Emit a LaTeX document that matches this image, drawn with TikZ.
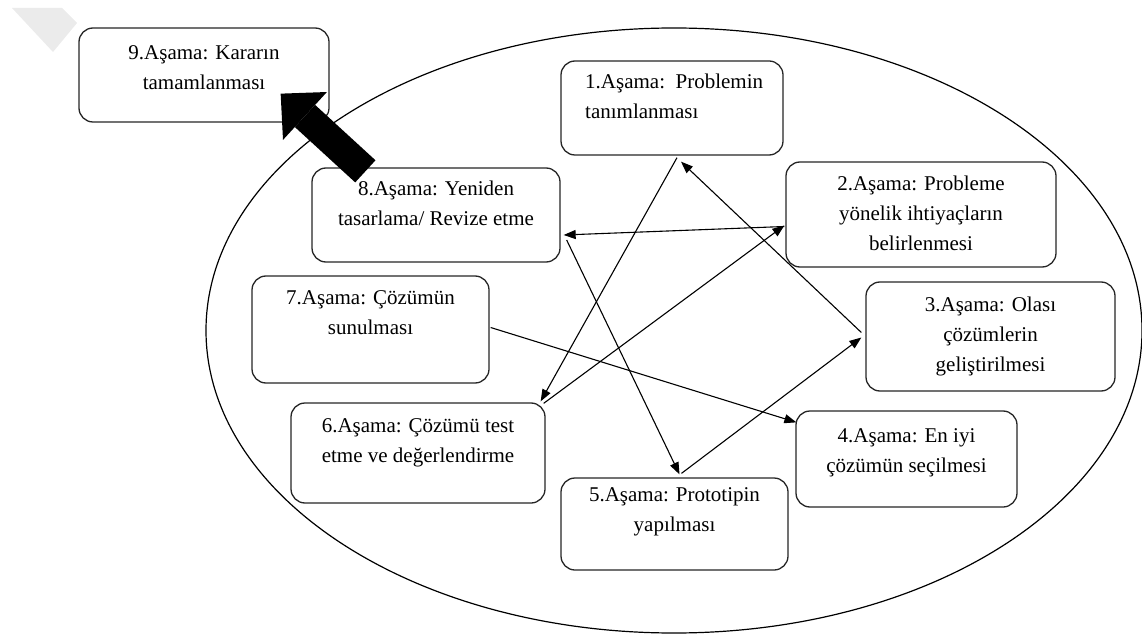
\documentclass[tikz,border=0pt]{standalone}
\usepackage{fontspec}
\setmainfont{Liberation Serif}
\usetikzlibrary{arrows.meta}
\begin{document}
\begin{tikzpicture}[x=1pt,y=-1pt]
\tikzset{
  box/.style={draw=black!85, line width=1.3pt, rounded corners=14pt, fill=white, inner sep=0pt},
  txt/.style={font=\fontsize{21}{30}\selectfont, inner sep=0pt, align=center, anchor=north},
  con/.style={line width=1.1pt, -{Triangle[length=12pt,width=9pt]}},
  bigarrow/.style={line width=30pt, -{Triangle[length=33pt,width=65pt,line width=0pt]}}
}
\useasboundingbox (0,0) rectangle (1142,636);
% watermark
\fill[black!8] (12,8) -- (62,8) -- (77,23) -- (53,52) -- cycle;
% ellipse
\draw[line width=1.2pt] (674,330.5) ellipse [x radius=468pt, y radius=302.5pt];
% boxes
\node[box, minimum width=250pt, minimum height=94pt]  (b9) at (204,75) {};
\node[box, minimum width=222pt, minimum height=94pt]  (b1) at (672,108) {};
\node[box, minimum width=248pt, minimum height=94pt]  (b8) at (436,215) {};
\node[box, minimum width=270pt, minimum height=105pt] (b2) at (921,214.5) {};
\node[box, minimum width=237pt, minimum height=107pt] (b7) at (370.5,329.5) {};
\node[box, minimum width=249pt, minimum height=109pt] (b3) at (990.5,336.5) {};
\node[box, minimum width=254pt, minimum height=100pt] (b6) at (418,453) {};
\node[box, minimum width=221pt, minimum height=96pt]  (b4) at (906.5,459) {};
\node[box, minimum width=227pt, minimum height=92pt]  (b5) at (674.5,524) {};
% texts
\node[txt] (t9) at ([yshift=-11pt]b9.north) {\strut 9.Aşama: Kararın\\tamamlanması};
\node[txt, anchor=north west, align=left] (t1) at (585,67) {\strut 1.Aşama:\ \ Problemin\\tanımlanması};
\node[txt] (t8) at ([yshift=-7pt]b8.north) {\strut 8.Aşama: Yeniden\\tasarlama/ Revize etme};
\node[txt] (t2) at ([yshift=-8pt]b2.north) {\strut 2.Aşama: Probleme\\yönelik ihtiyaçların\\belirlenmesi};
\node[txt] (t7) at ([yshift=-8pt]b7.north) {\strut 7.Aşama: Çözümün\\sunulması};
\node[txt] (t3) at ([yshift=-9pt]b3.north) {\strut 3.Aşama: Olası\\çözümlerin\\geliştirilmesi};
\node[txt] (t6) at ([yshift=-9pt]b6.north) {\strut 6.Aşama: Çözümü test\\etme ve değerlendirme};
\node[txt] (t4) at ([yshift=-11pt]b4.north) {\strut 4.Aşama: En iyi\\çözümün seçilmesi};
\node[txt] (t5) at ([yshift=-3pt]b5.north) {\strut 5.Aşama: Prototipin\\yapılması};
% connectors
\draw[con] ([xshift=5pt,yshift=-2pt]b1.south) -- ([xshift=-5pt,yshift=1pt]b6.north east);
\draw[con] ([xshift=-2pt,yshift=-1pt]b6.north east) -- ([xshift=-1pt,yshift=-11pt]b2.west);
\draw[con] ([xshift=-1pt,yshift=-12pt]b2.west) -- ([xshift=3pt,yshift=-20pt]b8.east);
\draw[con] ([xshift=6pt,yshift=-25pt]b8.east) -- ([xshift=5pt,yshift=3pt]b5.north);
\draw[con] ([xshift=7pt,yshift=4pt]b5.north) -- ([xshift=-4pt,yshift=-1pt]b3.west);
\draw[con] ([xshift=-4pt,yshift=4pt]b3.west) -- ([xshift=9pt,yshift=-6pt]b1.south);
\draw[con] ([xshift=1pt,yshift=2pt]b7.east) -- ([xshift=1pt,yshift=-12pt]b4.north west);
% thick arrow
\draw[bigarrow] ([xshift=54pt,yshift=-4pt]b8.north west) -- ([xshift=-49pt,yshift=29pt]b9.south east);
\end{tikzpicture}
\end{document}
